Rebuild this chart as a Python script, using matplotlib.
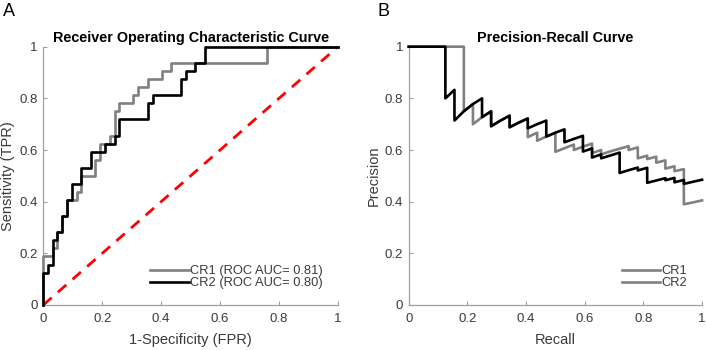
import matplotlib
matplotlib.use('Agg')
import matplotlib.pyplot as plt
from matplotlib.lines import Line2D

# ROC curves, corner points (step drawn horizontal then vertical)
cr1_fpr = [0, 0, 0.032, 0.048, 0.065, 0.081, 0.113, 0.129, 0.177, 0.194, 0.226, 0.242, 0.258, 0.306, 0.323,
           0.355, 0.403, 0.435, 0.758, 1]
cr1_tpr = [0, 0.188, 0.219, 0.281, 0.344, 0.406, 0.438, 0.5, 0.563, 0.625, 0.656, 0.75, 0.781, 0.813, 0.844,
           0.875, 0.906, 0.938, 1, 1]
cr2_fpr = [0, 0, 0.016, 0.032, 0.048, 0.065, 0.081, 0.097, 0.129, 0.161, 0.210, 0.242, 0.258, 0.355, 0.371,
           0.468, 0.484, 0.516, 0.548, 1]
cr2_tpr = [0, 0.125, 0.156, 0.25, 0.281, 0.344, 0.406, 0.469, 0.531, 0.594, 0.625, 0.656, 0.719, 0.781, 0.813,
           0.875, 0.906, 0.938, 1, 1]
roc_labels = ['CR1 (ROC AUC= 0.81)', 'CR2 (ROC AUC= 0.80)']

# Precision-recall curves
cr1_recall = [0, 0.188, 0.188, 0.219, 0.219, 0.25, 0.281, 0.281, 0.313, 0.344, 0.344, 0.375, 0.406, 0.406,
              0.438, 0.438, 0.469, 0.5, 0.5, 0.531, 0.563, 0.563, 0.594, 0.625, 0.625, 0.656, 0.656, 0.688,
              0.719, 0.75, 0.75, 0.781, 0.781, 0.813, 0.813, 0.844, 0.844, 0.875, 0.875, 0.906, 0.906, 0.938,
              0.938, 0.969, 1]
cr1_precision = [1, 1, 0.75, 0.778, 0.7, 0.727, 0.75, 0.692, 0.714, 0.733, 0.688, 0.706, 0.722, 0.65,
                 0.667, 0.636, 0.652, 0.667, 0.593, 0.607, 0.621, 0.6, 0.613, 0.625, 0.588, 0.6, 0.583, 0.595,
                 0.605, 0.615, 0.6, 0.61, 0.568, 0.578, 0.565, 0.574, 0.551, 0.56, 0.528, 0.537, 0.518, 0.526,
                 0.39, 0.397, 0.405]
cr2_recall = [0, 0.125, 0.125, 0.156, 0.156, 0.188, 0.219, 0.25, 0.25, 0.281, 0.281, 0.313, 0.344, 0.344,
              0.375, 0.406, 0.406, 0.438, 0.469, 0.469, 0.5, 0.531, 0.531, 0.563, 0.594, 0.594, 0.625, 0.625,
              0.656, 0.656, 0.688, 0.719, 0.719, 0.75, 0.781, 0.781, 0.813, 0.813, 0.844, 0.875, 0.875, 0.906,
              0.906, 0.938, 0.938, 0.969, 1]
cr2_precision = [1, 1, 0.8, 0.833, 0.714, 0.75, 0.778, 0.8, 0.727, 0.75, 0.692, 0.714, 0.733, 0.688,
                 0.706, 0.722, 0.684, 0.7, 0.714, 0.652, 0.667, 0.68, 0.63, 0.643, 0.655, 0.594, 0.606, 0.571,
                 0.583, 0.568, 0.579, 0.59, 0.511, 0.522, 0.532, 0.521, 0.531, 0.473, 0.482, 0.491, 0.483, 0.492,
                 0.475, 0.484, 0.469, 0.477, 0.485]
pr_labels = ['CR1', 'CR2']

ticks = [0, 0.2, 0.4, 0.6, 0.8, 1]
tick_labels = ['0', '0.2', '0.4', '0.6', '0.8', '1']

GRAY = '#808080'
AXIS_COLOR = '#a0a0a0'
TEXT_COLOR = '#3a3a3a'


def main():
    plt.rcParams['font.family'] = ['Liberation Sans', 'DejaVu Sans']
    fig = plt.figure(figsize=(7.06, 3.5), dpi=100)
    ax_roc = fig.add_axes([0.0613, 0.1286, 0.4174, 0.738])
    ax_pr = fig.add_axes([0.5789, 0.1286, 0.4155, 0.738])

    plot_roc(ax_roc)
    plot_pr(ax_pr)

    fig.text(0.004, 0.99, 'A', fontsize=13, va='top', ha='left', color='black')
    fig.text(0.534, 0.99, 'B', fontsize=13, va='top', ha='left', color='black')

    fig.savefig('out.png', dpi=100)


def style_axes(ax, title, xlabel, ylabel):
    ax.set_xlim(0, 1)
    ax.set_ylim(0, 1)
    ax.set_xticks(ticks)
    ax.set_xticklabels(tick_labels)
    ax.set_yticks(ticks)
    ax.set_yticklabels(tick_labels)
    for side in ['top', 'right']:
        ax.spines[side].set_visible(False)
    for side in ['left', 'bottom']:
        ax.spines[side].set_color(AXIS_COLOR)
        ax.spines[side].set_linewidth(0.9)
    ax.tick_params(direction='in', length=3, width=0.8, color=AXIS_COLOR, labelcolor=TEXT_COLOR,
                   labelsize=9.5)
    ax.tick_params(axis='x', pad=6)
    ax.tick_params(axis='y', pad=4)
    ax.set_title(title, fontsize=10.4, fontweight='bold', pad=3.5)
    ax.set_xlabel(xlabel, fontsize=10.5, color=TEXT_COLOR, va='center')
    ax.set_ylabel(ylabel, fontsize=10.5, color=TEXT_COLOR, va='center')
    ax.xaxis.set_label_coords(0.5, -0.135)
    ax.yaxis.set_label_coords(-0.12, 0.5)


def add_legend(ax, handles, labels):
    ax.legend(handles, labels, loc='lower right', bbox_to_anchor=(0.95, 0.06), frameon=False, fontsize=9.3,
              handlelength=3.0, handletextpad=0.1, labelspacing=0.0, borderpad=0, borderaxespad=0,
              labelcolor=TEXT_COLOR)


def plot_roc(ax):
    l1, = ax.plot(cr1_fpr, cr1_tpr, drawstyle='steps-post', color=GRAY, lw=1.9, clip_on=False, zorder=3)
    l2, = ax.plot(cr2_fpr, cr2_tpr, drawstyle='steps-post', color='black', lw=1.9, clip_on=False, zorder=4)
    ax.plot([0, 1], [0, 1], ls=(0, (4, 3)), color='red', lw=2, clip_on=False, zorder=2)
    style_axes(ax, 'Receiver Operating Characteristic Curve', '1-Specificity (FPR)', 'Sensitivity (TPR)')
    add_legend(ax, [l1, l2], roc_labels)


def plot_pr(ax):
    ax.plot(cr1_recall, cr1_precision, color=GRAY, lw=1.9, clip_on=False, zorder=3)
    ax.plot(cr2_recall, cr2_precision, color='black', lw=1.9, clip_on=False, zorder=4)
    style_axes(ax, 'Precision-Recall Curve', 'Recall', 'Precision')
    # both legend entries are drawn in gray in the original figure
    handles = [Line2D([], [], color=GRAY, lw=1.9), Line2D([], [], color=GRAY, lw=1.9)]
    add_legend(ax, handles, pr_labels)


if __name__ == '__main__':
    main()
